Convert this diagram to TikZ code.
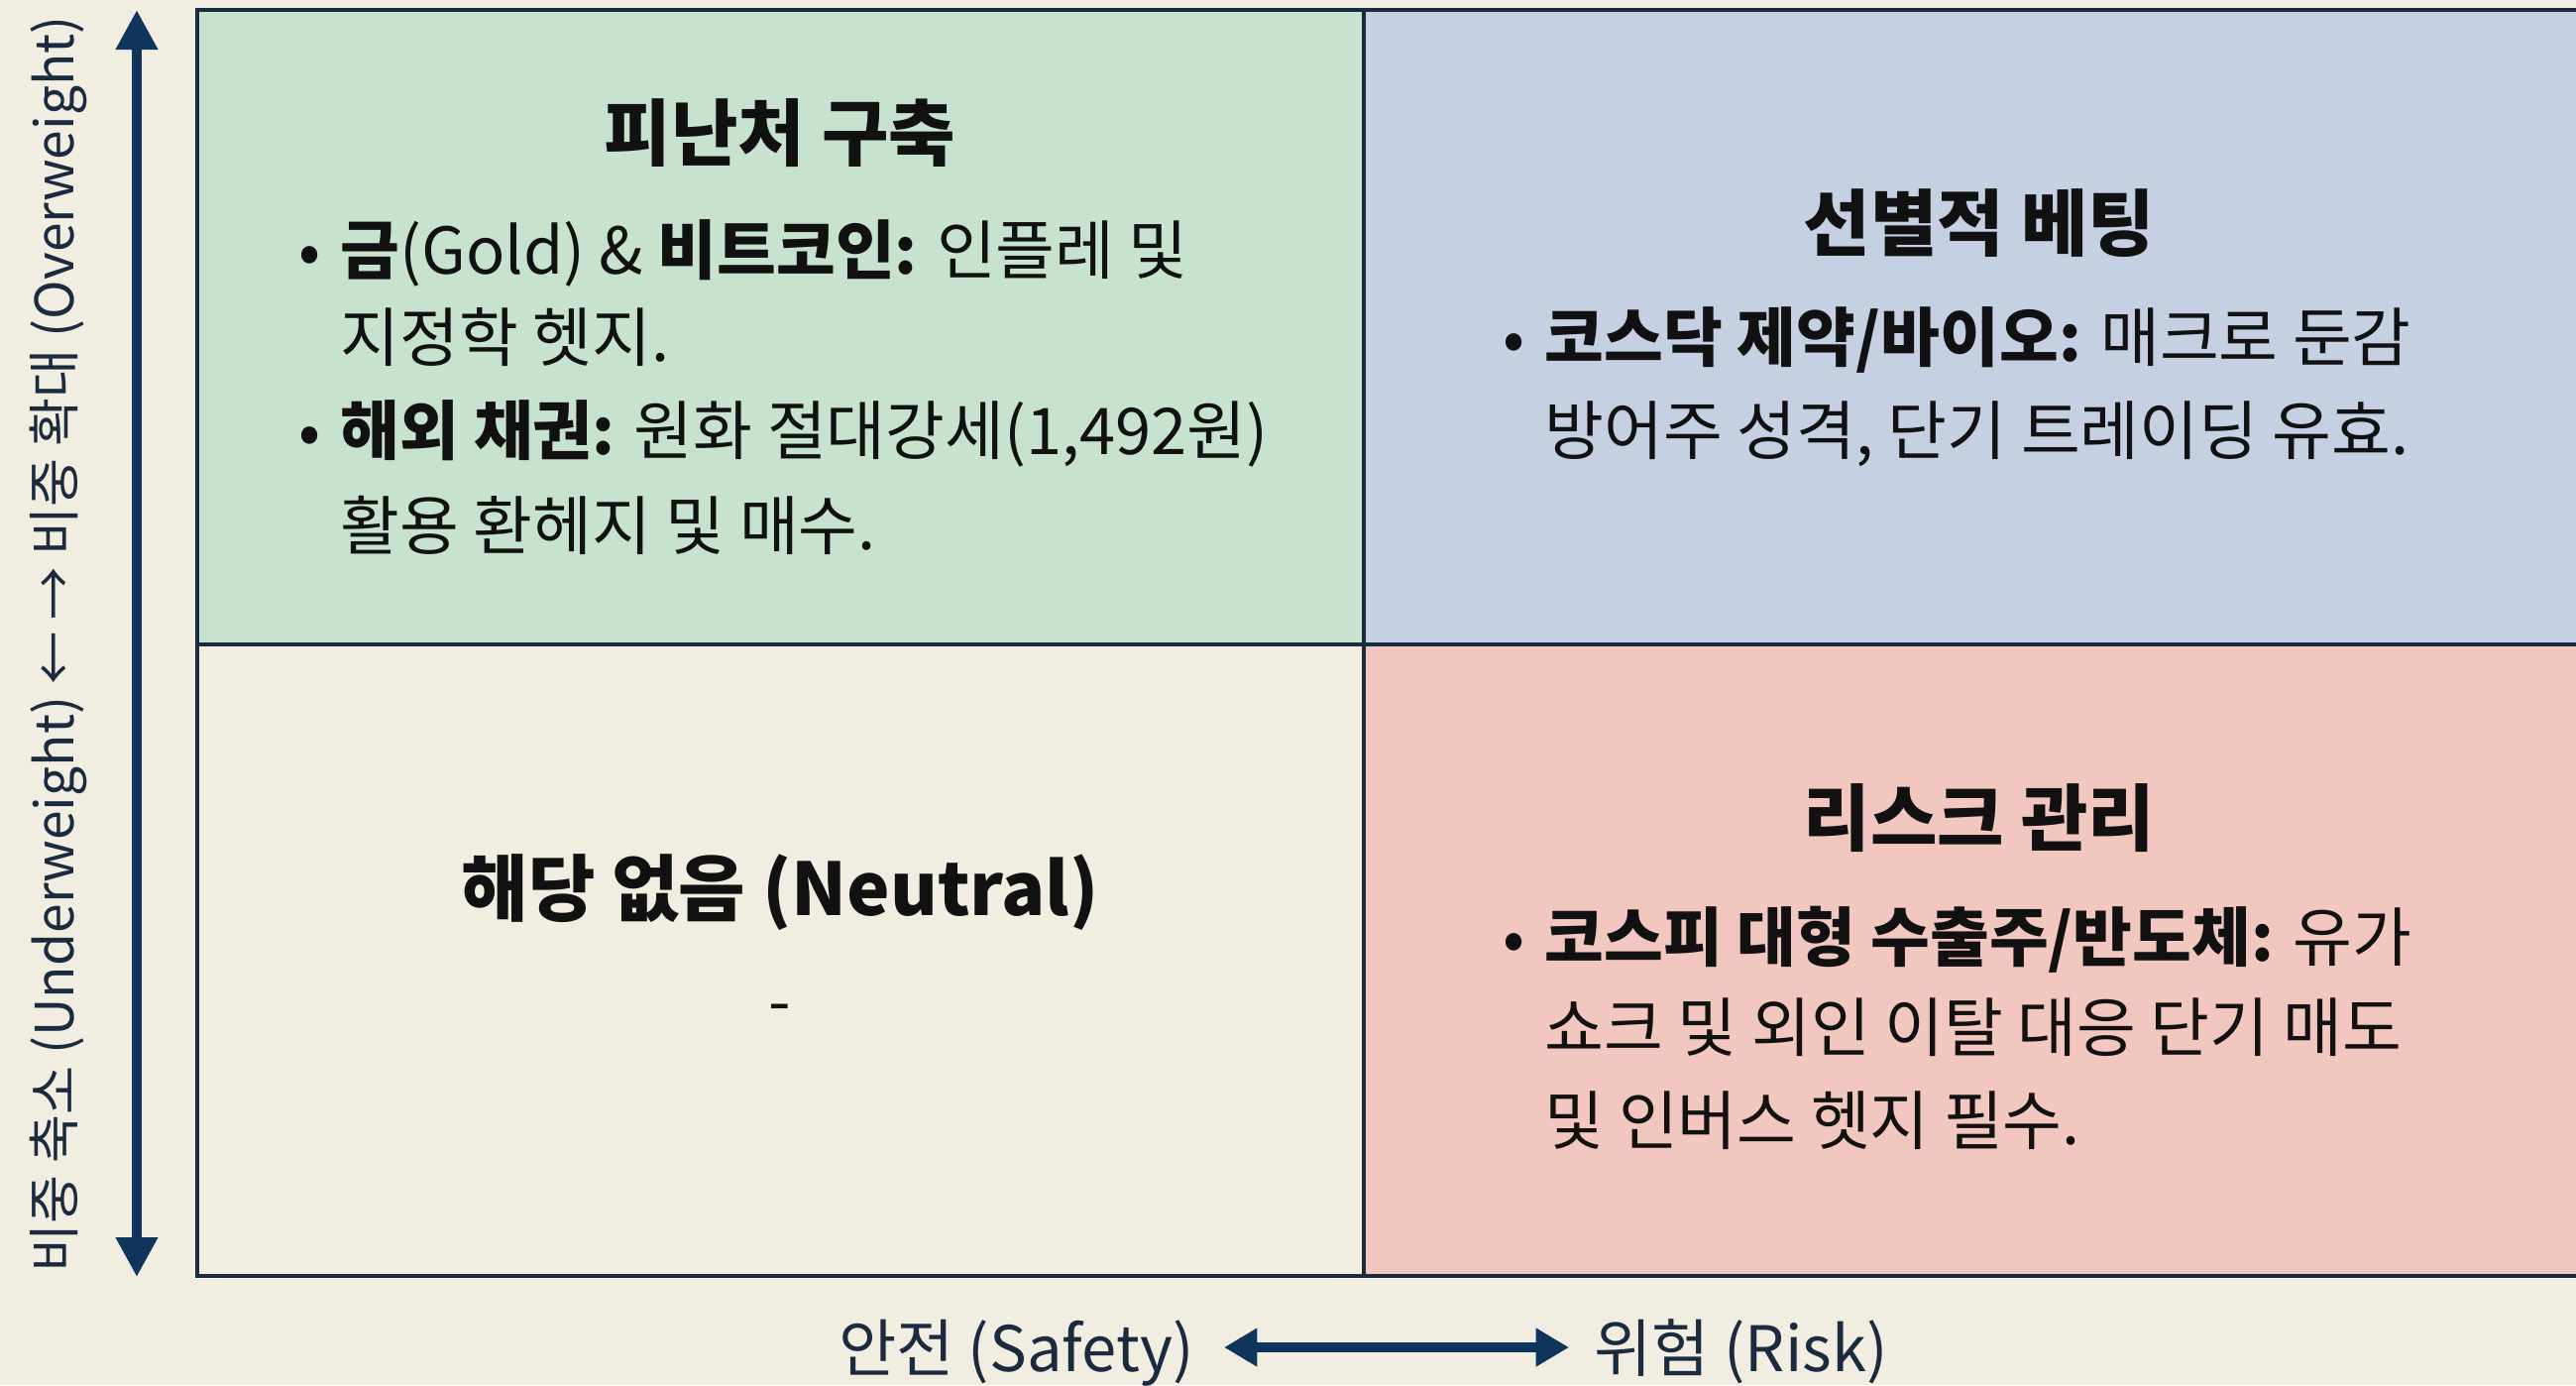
\documentclass[tikz,border=0pt]{standalone}
\usepackage{fontspec}
\setmainfont{Noto Sans CJK KR}
\usetikzlibrary{arrows.meta}
\definecolor{bgc}{HTML}{F1EDE1}
\definecolor{greenc}{HTML}{C7E3CF}
\definecolor{bluec}{HTML}{C5D0E3}
\definecolor{pinkc}{HTML}{F2C7BF}
\definecolor{creamc}{HTML}{F1EDE0}
\definecolor{linec}{HTML}{1A2B40}
\definecolor{arrowc}{HTML}{0F355C}
\definecolor{textc}{HTML}{111111}
\newcommand{\bul}{\llap{•\hspace{6pt}}}
\begin{document}
\begin{tikzpicture}[x=0.3pt,y=-0.3pt,
  gridline/.style={draw=linec,line width=1.3pt},
  titletext/.style={font=\fontsize{22}{26}\selectfont\bfseries,anchor=base,inner sep=0,text=textc},
  bodytext/.style={font=\fontsize{19.5}{28}\selectfont,anchor=base west,inner sep=0,text=textc},
  axislab/.style={font=\fontsize{19}{23}\selectfont,inner sep=0,text=linec},
  vaxis/.style={draw=arrowc,line width=3pt,{Triangle[length=12pt,width=12pt]}-{Triangle[length=12pt,width=12pt]}},
  haxis/.style={draw=arrowc,line width=3pt,{Triangle[length=10pt,width=11pt]}-{Triangle[length=10pt,width=11pt]}}]
\useasboundingbox (0,0) rectangle (2599,1397);
\fill[bgc] (0,0) rectangle (2599,1397);
% cells
\fill[greenc] (199,10) rectangle (1376,650);
\fill[bluec] (1376,10) rectangle (2620,650);
\fill[creamc] (199,650) rectangle (1376,1287);
\fill[pinkc] (1376,650) rectangle (2620,1287);
\draw[gridline] (199,10) rectangle (2620,1287);
\draw[gridline] (1376,10) -- (1376,1287);
\draw[gridline] (199,650) -- (2620,650);
% vertical axis
\coordinate (vtop) at (138,10);
\coordinate (vbot) at (138,1288);
\draw[vaxis] (vbot) -- (vtop);
\node[axislab,font=\fontsize{16}{20}\selectfont,rotate=90,anchor=base] (vlab) at (74,650) {비중 축소 (Underweight) ← → 비중 확대 (Overweight)};
% horizontal axis
\node[axislab,anchor=base east] (safety) at (1205,1383) {안전 (Safety)};
\node[axislab,anchor=base west] (risk) at (1608,1383) {위험 (Risk)};
\coordinate (hl) at (1235,1359);
\coordinate (hr) at (1583,1359);
\draw[haxis] (hl) -- (hr);
% top-left
\node[titletext] (tlt) at (787,161) {피난처 구축};
\node[bodytext] (tl1) at (343,276) {\bul\textbf{금}(Gold) \& \textbf{비트코인:} 인플레 및};
\node[bodytext] (tl2) at (343,364) {지정학 헷지.};
\node[bodytext] (tl3) at (343,458) {\bul\textbf{해외 채권:} 원화 절대강세(1,492원)};
\node[bodytext] (tl4) at (343,554) {활용 환헤지 및 매수.};
% top-right
\node[titletext] (trt) at (1997,252) {선별적 베팅};
\node[bodytext] (tr1) at (1558,364) {\bul\textbf{코스닥 제약/바이오:} 매크로 둔감};
\node[bodytext] (tr2) at (1558,458) {방어주 성격, 단기 트레이딩 유효.};
% bottom-left
\node[titletext] (blt) at (787,923) {해당 없음 (Neutral)};
\node[bodytext,anchor=base] (bl1) at (787,1033) {-};
% bottom-right
\node[titletext] (brt) at (1997,852) {리스크 관리};
\node[bodytext] (br1) at (1558,969) {\bul\textbf{코스피 대형 수출주/반도체:} 유가};
\node[bodytext] (br2) at (1558,1060) {쇼크 및 외인 이탈 대응 단기 매도};
\node[bodytext] (br3) at (1558,1154) {및 인버스 헷지 필수.};
\end{tikzpicture}
\end{document}
